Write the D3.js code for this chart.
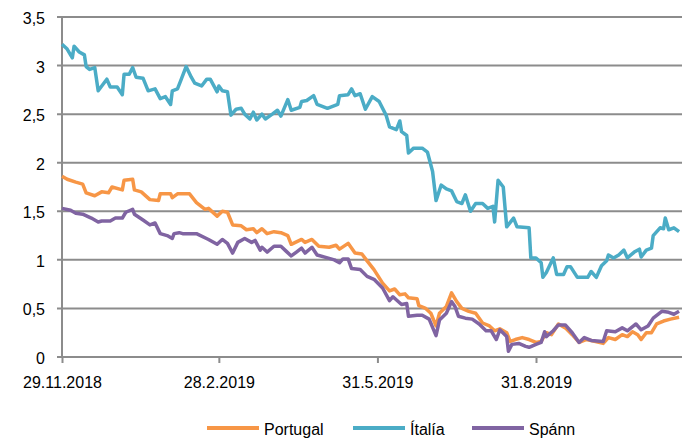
<!DOCTYPE html>
<html>
<head>
<meta charset="utf-8">
<script src="https://cdn.jsdelivr.net/npm/d3@7"></script>
<style>
  body { margin: 0; background: #fff; }
  svg { display: block; font-family: "Liberation Sans", Arial, sans-serif; }
</style>
</head>
<body>
<div id="chart"></div>
<script>
// days after 29.11.2018 and the value on that day
var startDate = new Date(2018, 10, 29);

var ptDays = [0,3,8,12,14,19,23,27,29,35,36,41,42,46,51,56,57,63,64,67,74,78,83,85,90,93,96,99,104,107,111,113,116,119,123,127,131,133,139,141,145,149,155,159,161,166,170,174,177,181,186,190,193,196,199,201,206,207,211,214,217,219,223,226,229,232,236,240,244,248,251,254,258,260,263,267,271,275,278,281,284,288,292,296,300,304,307,314,317,321,325,328,331,334,336,339,342,345,349,353,358];
var ptValues = [1.86,1.83,1.80,1.78,1.69,1.66,1.70,1.69,1.75,1.72,1.82,1.83,1.72,1.70,1.62,1.61,1.68,1.68,1.64,1.68,1.68,1.59,1.52,1.53,1.45,1.50,1.49,1.36,1.35,1.31,1.32,1.28,1.32,1.27,1.29,1.28,1.25,1.16,1.21,1.18,1.21,1.14,1.13,1.15,1.11,1.17,1.07,1.06,0.99,0.90,0.76,0.68,0.70,0.64,0.65,0.61,0.60,0.53,0.50,0.45,0.32,0.45,0.52,0.66,0.57,0.50,0.47,0.45,0.35,0.32,0.27,0.29,0.25,0.16,0.18,0.20,0.18,0.15,0.16,0.25,0.23,0.34,0.30,0.23,0.15,0.18,0.17,0.14,0.20,0.18,0.23,0.21,0.26,0.23,0.18,0.25,0.25,0.34,0.37,0.39,0.41];

var itDays = [0,3,6,7,10,13,14,16,19,21,26,28,32,35,36,39,41,43,47,50,54,57,60,63,64,67,69,72,75,77,81,84,86,90,91,93,96,98,101,104,106,109,111,113,116,118,122,125,127,131,133,138,139,142,146,148,154,160,161,166,168,170,173,176,180,184,188,190,194,196,197,200,201,204,209,212,215,217,220,223,226,229,232,234,237,240,244,247,250,251,253,256,258,262,264,271,272,275,278,279,281,285,287,291,293,295,299,305,307,310,313,316,317,320,323,326,328,332,335,336,339,342,343,347,349,350,352,355,358];
var itValues = [3.22,3.17,3.08,3.20,3.14,3.11,2.99,2.96,2.98,2.74,2.86,2.78,2.78,2.70,2.91,2.91,2.98,2.88,2.87,2.74,2.76,2.66,2.68,2.60,2.74,2.76,2.85,2.99,2.88,2.82,2.79,2.86,2.86,2.73,2.79,2.74,2.73,2.49,2.55,2.56,2.50,2.45,2.52,2.44,2.50,2.45,2.50,2.54,2.48,2.65,2.54,2.57,2.63,2.64,2.69,2.60,2.56,2.60,2.69,2.70,2.76,2.69,2.71,2.55,2.68,2.63,2.49,2.37,2.34,2.43,2.32,2.28,2.10,2.15,2.15,2.11,1.91,1.61,1.77,1.73,1.71,1.60,1.58,1.67,1.50,1.58,1.58,1.53,1.55,1.39,1.82,1.75,1.34,1.43,1.34,1.33,1.02,1.02,0.97,0.82,0.87,1.02,0.85,0.85,0.93,0.93,0.82,0.82,0.88,0.82,0.94,0.99,1.05,1.02,1.05,1.10,1.02,1.08,1.11,1.03,1.10,1.12,1.25,1.33,1.32,1.43,1.31,1.33,1.29];

var esDays = [0,5,8,12,17,21,23,28,31,35,37,41,42,47,51,54,57,61,64,65,68,70,78,85,90,93,96,99,102,106,110,112,115,116,119,123,127,130,133,136,139,141,145,148,154,158,161,163,166,168,173,177,181,186,190,192,197,200,201,206,209,213,217,219,223,226,228,230,234,238,242,246,249,252,254,258,259,261,265,269,271,275,278,280,281,285,288,292,296,300,303,307,314,316,321,325,328,333,336,340,343,348,352,355,358];
var esValues = [1.53,1.51,1.48,1.47,1.43,1.39,1.40,1.40,1.43,1.43,1.49,1.52,1.47,1.41,1.36,1.38,1.27,1.25,1.22,1.27,1.28,1.27,1.27,1.21,1.16,1.21,1.17,1.07,1.18,1.22,1.18,1.20,1.10,1.13,1.08,1.14,1.14,1.09,1.04,1.08,1.12,1.07,1.13,1.05,1.02,1.00,0.97,1.01,1.01,0.91,0.90,0.83,0.80,0.71,0.58,0.62,0.54,0.55,0.42,0.43,0.43,0.39,0.22,0.38,0.45,0.57,0.52,0.42,0.40,0.39,0.34,0.27,0.27,0.18,0.28,0.21,0.06,0.13,0.14,0.11,0.10,0.13,0.15,0.26,0.21,0.27,0.33,0.33,0.25,0.15,0.20,0.17,0.16,0.27,0.26,0.30,0.27,0.34,0.28,0.32,0.40,0.47,0.46,0.44,0.47];

var seriesNames = ["Portugal", "Ítalía", "Spánn"];
var seriesColors = ["#F79646", "#4BACC6", "#8064A2"];

var yTicks = [0, 0.5, 1, 1.5, 2, 2.5, 3, 3.5];
var xTickDates = [new Date(2018, 10, 29), new Date(2019, 1, 28), new Date(2019, 4, 31), new Date(2019, 7, 31)];

function toPoints(days, values) {
    return days.map(function (d, i) { return { date: d3.timeDay.offset(startDate, d), value: values[i] }; });
}
var series = [
    { name: seriesNames[0], color: seriesColors[0], values: toPoints(ptDays, ptValues) },
    { name: seriesNames[1], color: seriesColors[1], values: toPoints(itDays, itValues) },
    { name: seriesNames[2], color: seriesColors[2], values: toPoints(esDays, esValues) }
];

var width = 682, height = 441;
var margin = { top: 17, right: 0, bottom: 84, left: 62 };
var innerH = height - margin.top - margin.bottom;

var svg = d3.select("#chart").append("svg")
    .attr("width", width)
    .attr("height", height);

// x: 275 days between first and last tick = 474px
var x = d3.scaleTime()
    .domain([startDate, d3.timeDay.offset(startDate, 275)])
    .range([62, 536]);

var y = d3.scaleLinear()
    .domain([0, 3.5])
    .range([margin.top + innerH, margin.top]);

// gridlines
svg.append("g")
    .selectAll("line")
    .data(yTicks)
    .enter()
    .append("line")
    .attr("x1", 57)
    .attr("x2", width)
    .attr("y1", function (d) { return y(d); })
    .attr("y2", function (d) { return y(d); })
    .style("stroke", "#8c8c8c")
    .style("stroke-width", 2);

// y axis line
svg.append("line")
    .attr("x1", 62).attr("x2", 62)
    .attr("y1", y(3.5)).attr("y2", y(0))
    .style("stroke", "#8c8c8c")
    .style("stroke-width", 2);

// y labels
svg.append("g")
    .selectAll("text")
    .data(yTicks)
    .enter()
    .append("text")
    .attr("x", 45)
    .attr("y", function (d) { return y(d) + 7; })
    .attr("text-anchor", "end")
    .style("font-size", "16px")
    .style("fill", "#000")
    .text(function (d) { return String(d).replace(".", ","); });

// x axis ticks and labels
var fmt = function (d) { return d.getDate() + "." + (d.getMonth() + 1) + "." + d.getFullYear(); };
var xAxis = svg.append("g")
    .attr("transform", "translate(0," + y(0) + ")")
    .call(d3.axisBottom(x).tickValues(xTickDates).tickSize(6).tickSizeOuter(0).tickFormat(fmt));
xAxis.select(".domain").remove();
xAxis.selectAll(".tick line").style("stroke", "#8c8c8c").style("stroke-width", 2);
xAxis.selectAll(".tick text")
    .attr("y", 20)
    .attr("dy", "0.71em")
    .style("font-size", "16px")
    .style("font-family", "Liberation Sans, Arial, sans-serif")
    .style("fill", "#000");

// lines
var line = d3.line()
    .x(function (d) { return x(d.date); })
    .y(function (d) { return y(d.value); });

svg.append("g")
    .selectAll("path")
    .data(series)
    .enter()
    .append("path")
    .attr("d", function (d) { return line(d.values); })
    .style("fill", "none")
    .style("stroke", function (d) { return d.color; })
    .style("stroke-width", 3.5)
    .style("stroke-linejoin", "round");

// legend
var legendX = [207, 353, 472];
var legend = svg.append("g")
    .selectAll("g")
    .data(series)
    .enter()
    .append("g")
    .attr("transform", function (d, i) { return "translate(" + legendX[i] + ",428)"; });
legend.append("line")
    .attr("x1", 0).attr("x2", 52)
    .style("stroke", function (d) { return d.color; })
    .style("stroke-width", 4);
legend.append("text")
    .attr("x", 57)
    .attr("y", 7)
    .style("font-size", "16px")
    .style("fill", "#000")
    .text(function (d) { return d.name; });
</script>
</body>
</html>
